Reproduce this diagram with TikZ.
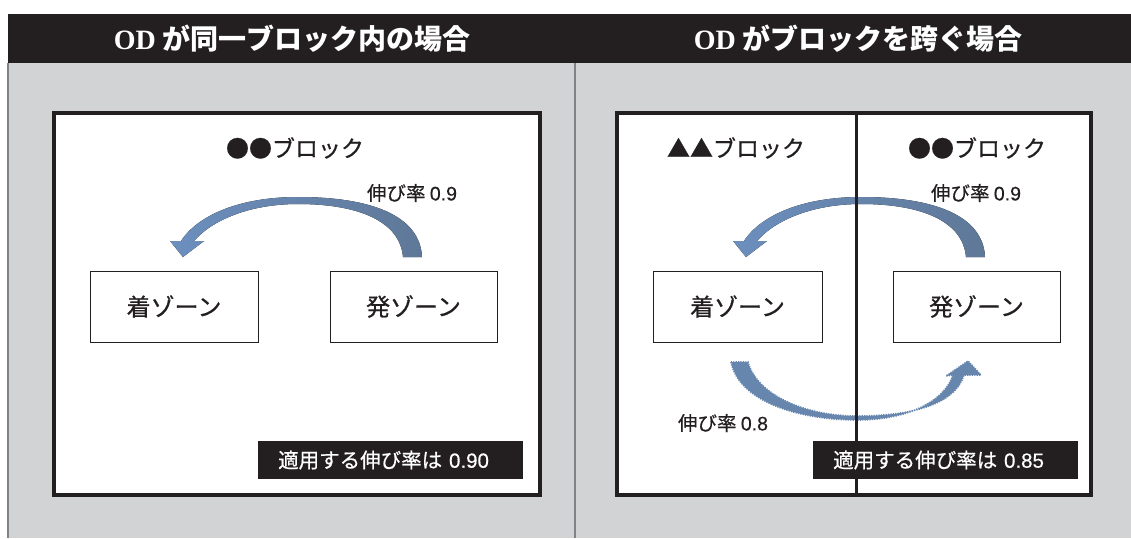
\documentclass[tikz,border=0pt]{standalone}
\usepackage{fontspec}
\setmainfont{Noto Sans CJK JP}
\newfontfamily\jp{Noto Sans CJK JP}
\newfontfamily\jpm{Noto Sans CJK JP}[FakeBold=0.6]
\newfontfamily\lat{Liberation Sans}[FakeBold=0.4]
\newfontfamily\serifb{Liberation Serif}
\definecolor{hdr}{HTML}{231F20}
\definecolor{bggrey}{HTML}{D1D3D4}
\definecolor{gline}{HTML}{808285}
\definecolor{ink}{HTML}{231F20}
\definecolor{arrL}{HTML}{6C8FBE}
\definecolor{arrR}{HTML}{5F7898}
\definecolor{arrM}{HTML}{6786AE}
\tikzset{
  hdrtext/.style={text=white, font=\jp\bfseries\fontsize{28}{30}\selectfont, inner sep=0pt},
  panel/.style={draw=ink, line width=3.5pt, fill=white},
  zone/.style={draw=ink, line width=0.9pt, fill=white, font=\jpm\fontsize{24}{26}\selectfont, text=ink},
  blocklbl/.style={font=\jpm\fontsize{23}{25}\selectfont, text=ink, inner sep=0pt},
  ratelbl/.style={font=\jpm\fontsize{19.5}{21}\selectfont, text=ink, inner sep=0pt},
  applbox/.style={fill=hdr, text=white, font=\jpm\fontsize{20.5}{22}\selectfont, minimum height=38pt, text width=225pt, align=left, inner xsep=20pt, inner ysep=0pt, anchor=west},
  arrowshade/.style={left color=arrL, right color=arrR},
  uparc/.pic={
    \fill[arrowshade] (422,257) .. controls (420,215) and (370,197) .. (298,197)
      .. controls (240,197) and (198,215) .. (181,241) -- (170,241) -- (183,257) -- (204,241) -- (194,241)
      .. controls (212,220) and (250,204) .. (298,204)
      .. controls (360,204) and (400,222) .. (403,257) -- cycle;
  }
}
\begin{document}
\begin{tikzpicture}[x=1pt,y=-1pt]
\useasboundingbox (0,0) rectangle (1131,538);
\fill[white] (0,0) rectangle (1131,538);
\fill[bggrey] (8,63) rectangle (1131,538);
\fill[hdr] (8,14) rectangle (1131,63);
\draw[gline, line width=2pt] (8,63) -- (8,538);
\draw[gline, line width=2pt] (575,63) -- (575,538);

\node[hdrtext] (h1) at (292,39) {{\serifb\bfseries OD} が同一ブロック内の場合};
\node[hdrtext] (h2) at (858,39) {{\serifb\bfseries OD} がブロックを跨ぐ場合};

% panels
\node[panel, minimum width=486pt, minimum height=382pt] (p1) at (297,304) {};
\node[panel, minimum width=474pt, minimum height=382pt] (p2) at (854,304) {};
\coordinate (dt) at (856.5,113);
\coordinate (db) at (856.5,495);

% block labels
\node[blocklbl] (b1) at (295,148) {●●ブロック};
\node[blocklbl] (b2) at (736,148) {▲▲ブロック};
\node[blocklbl] (b3) at (977,148) {●●ブロック};

% upper arrows
\pic at (0,0) {uparc};
\pic at (563,0) {uparc};

% zones
\node[zone, minimum width=168pt, minimum height=71pt] (z1) at (174,306.5) {着ゾーン};
\node[zone, minimum width=167pt, minimum height=71pt] (z2) at (413.5,306.5) {発ゾーン};
\node[zone, minimum width=169pt, minimum height=71pt] (z3) at (737.5,306.5) {着ゾーン};
\node[zone, minimum width=167pt, minimum height=71pt] (z4) at (976.5,306.5) {発ゾーン};

% lower arrow
\path[fill=arrM, draw=arrM, line width=1.6pt, dash pattern=on 1.2pt off 1.2pt]
  (731,362) .. controls (739,402) and (800,420) .. (857,420)
  .. controls (910,420) and (945,400) .. (953,375) -- (946,376) -- (968,361) -- (981,375) -- (964,375)
  .. controls (955,405) and (910,416) .. (857,416)
  .. controls (805,416) and (757,395) .. (748,362) -- cycle;

% divider drawn over the arrows
\draw[ink, line width=3.5pt] (dt) -- (db);

% rate labels
\node[ratelbl] (r1) at (412,193) {伸び率 {\lat 0.9}};
\node[ratelbl] (r2) at (976,193) {伸び率 {\lat 0.9}};
\node[ratelbl] (r3) at (723,423) {伸び率 {\lat 0.8}};

% applied rate boxes
\node[applbox] (a1) at (258,460) {適用する伸び率は {\lat 0.90}};
\node[applbox] (a2) at (813,460) {適用する伸び率は {\lat 0.85}};
\end{tikzpicture}
\end{document}
